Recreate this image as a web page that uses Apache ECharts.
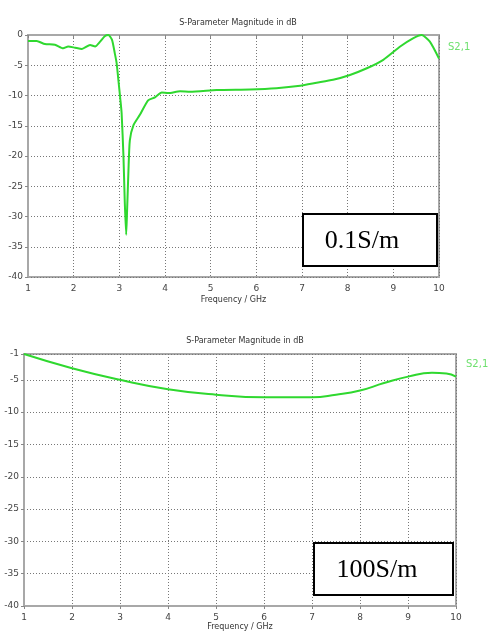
<!DOCTYPE html>
<html><head><meta charset="utf-8">
<script src="https://cdn.jsdelivr.net/npm/echarts@6/dist/echarts.min.js"></script>
<style>html,body{margin:0;padding:0;background:#fff}#c{width:489px;height:640px}</style>
</head><body><div id="c"></div>
<script>
// Top chart (0.1 S/m): frequency (GHz) and S21 (dB)
const freqTop = [1, 1.19, 1.37, 1.59, 1.77, 1.88, 2.03, 2.18, 2.36, 2.47, 2.58, 2.68, 2.76, 2.84, 2.9, 2.94, 2.98, 3.02, 3.05, 3.09, 3.12, 3.15, 3.17, 3.2, 3.23, 3.31, 3.45, 3.63, 3.78, 3.93, 4.07, 4.33, 4.55, 5.13, 5.86, 6.44, 6.96, 7.32, 7.68, 8.05, 8.42, 8.78, 9.15, 9.43, 9.62, 9.8, 10];
const s21Top = [-1.0, -1.0, -1.5, -1.6, -2.2, -1.9, -2.1, -2.3, -1.65, -1.9, -1.1, -0.2, 0, -0.8, -3.0, -4.6, -7.5, -10.5, -12.9, -20, -27.8, -33, -29, -22.3, -17.4, -14.9, -13.2, -10.8, -10.3, -9.5, -9.6, -9.3, -9.4, -9.1, -9.0, -8.8, -8.4, -7.9, -7.4, -6.6, -5.5, -4.1, -1.9, -0.55, 0, -1.1, -3.9];
// Bottom chart (100 S/m)
const freqBot = [1, 2, 3, 4, 5, 6, 7, 7.5, 8, 8.5, 9, 9.5, 9.8, 10];
const s21Bot = [-1, -3.2, -5, -6.45, -7.3, -7.7, -7.7, -7.3, -6.65, -5.5, -4.5, -3.9, -4.0, -4.5];
const xTicks = [1, 2, 3, 4, 5, 6, 7, 8, 9, 10];
const titleText = 'S-Parameter Magnitude in dB';
const xName = 'Frequency / GHz';
const seriesName = 'S2,1';

const green = '#2fd82f';
const fontFam = 'Tahoma, "DejaVu Sans", sans-serif';
function xAxis(gi){
  return {type:'value', gridIndex:gi, min:1, max:10, interval:1,
    name:xName, nameLocation:'middle', nameGap:gi===0?19:17,
    nameTextStyle:{fontSize:8, color:'#333', fontFamily:fontFam},
    axisLine:{lineStyle:{color:'#a8a8a8', width:2}},
    axisTick:{show:true, length:3, lineStyle:{color:'#888'}},
    axisLabel:{fontSize:9, color:'#444', margin:7, fontFamily:fontFam},
    splitLine:{show:true, lineStyle:{color:'#777', type:[1,2], width:1}}};
}
function yAxis(gi, max){
  return {type:'value', gridIndex:gi, min:-40, max:max, interval:5,
    axisLine:{show:true, lineStyle:{color:'#a8a8a8', width:2}},
    axisTick:{show:true, length:3, lineStyle:{color:'#888'}},
    axisLabel:{fontSize:9, color:'#444', margin:5, fontFamily:fontFam},
    splitLine:{show:true, lineStyle:{color:'#777', type:[1,2], width:1}}};
}
const chart = echarts.init(document.getElementById('c'));
chart.setOption({
  backgroundColor:'#fff',
  animation:false,
  title:[
    {text:titleText, left:233, top:14, textAlign:'center', textStyle:{fontSize:8, fontWeight:'normal', color:'#333', fontFamily:fontFam}},
    {text:titleText, left:240, top:332, textAlign:'center', textStyle:{fontSize:8, fontWeight:'normal', color:'#333', fontFamily:fontFam}}
  ],
  legend:[
    {data:['top'], left:443, top:40, padding:0, orient:'vertical', icon:'none', itemWidth:0, itemGap:0, formatter:()=>seriesName, textStyle:{color:'#6ee06e', fontSize:10, fontFamily:fontFam}, selectedMode:false},
    {data:['bot'], left:461, top:357, padding:0, orient:'vertical', icon:'none', itemWidth:0, itemGap:0, formatter:()=>seriesName, textStyle:{color:'#6ee06e', fontSize:10, fontFamily:fontFam}, selectedMode:false}
  ],
  grid:[
    {left:28, top:35, width:411, height:242, show:true, borderColor:'#a8a8a8', borderWidth:2},
    {left:24, top:354, width:432, height:252, show:true, borderColor:'#a8a8a8', borderWidth:2}
  ],
  xAxis:[xAxis(0), xAxis(1)],
  yAxis:[yAxis(0, 0), yAxis(1, -1)],
  series:[
    {name:'top', type:'line', xAxisIndex:0, yAxisIndex:0, data:freqTop.map((f,i)=>[f, s21Top[i]]), showSymbol:false, smooth:0.2, lineStyle:{color:green, width:2}, itemStyle:{color:green}},
    {name:'bot', type:'line', xAxisIndex:1, yAxisIndex:1, data:freqBot.map((f,i)=>[f, s21Bot[i]]), showSymbol:false, smooth:0.5, lineStyle:{color:green, width:2}, itemStyle:{color:green}}
  ],
  graphic:[
    {type:'rect', shape:{x:303, y:214, width:134, height:52}, style:{fill:'#fff', stroke:'#000', lineWidth:2}, z:100},
    {type:'text', x:362, y:241, style:{text:'0.1S/m', font:'26px "Liberation Serif", "Times New Roman", serif', fill:'#000', textAlign:'center', textVerticalAlign:'middle'}, z:101},
    {type:'rect', shape:{x:314, y:543, width:139, height:52}, style:{fill:'#fff', stroke:'#000', lineWidth:2}, z:100},
    {type:'text', x:377, y:570, style:{text:'100S/m', font:'26px "Liberation Serif", "Times New Roman", serif', fill:'#000', textAlign:'center', textVerticalAlign:'middle'}, z:101}
  ]
});
</script></body></html>
